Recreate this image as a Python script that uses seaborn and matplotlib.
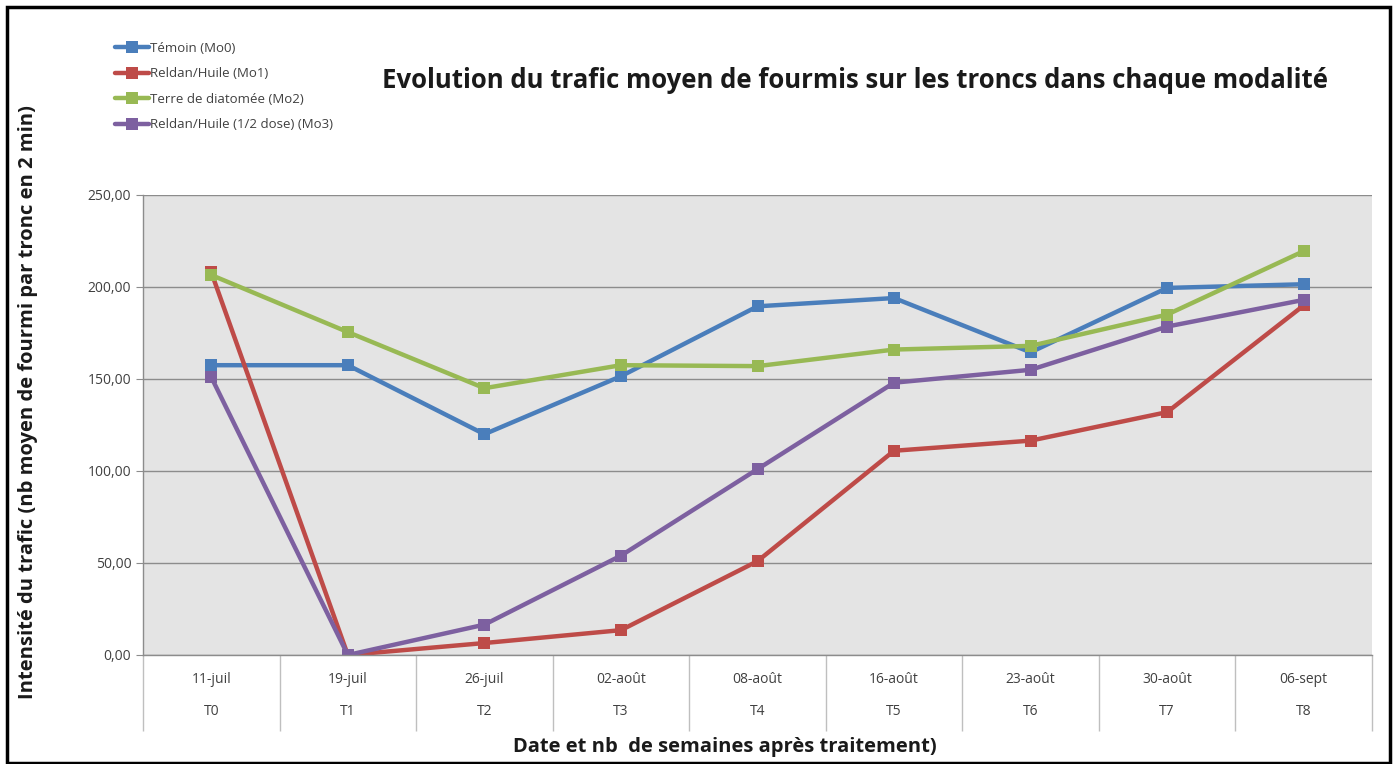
import pandas as pd
import matplotlib
matplotlib.use('Agg')
import matplotlib.pyplot as plt
import matplotlib.patches as patches
from matplotlib.ticker import FuncFormatter, FixedLocator
import seaborn as sns

# Data
dates = ['11-juil', '19-juil', '26-juil', '02-août', '08-août', '16-août', '23-août', '30-août', '06-sept']
weeks = ['T0', 'T1', 'T2', 'T3', 'T4', 'T5', 'T6', 'T7', 'T8']
series_names = ['Témoin (Mo0)', 'Reldan/Huile (Mo1)', 'Terre de diatomée (Mo2)', 'Reldan/Huile (1/2 dose) (Mo3)']
temoin = [157.5, 157.5, 120.0, 151.5, 189.5, 194.0, 164.5, 199.5, 201.5]
reldan = [208.0, 0.0, 6.5, 13.5, 51.0, 111.0, 116.5, 132.0, 190.0]
terre = [206.5, 175.5, 145.0, 157.5, 157.0, 166.0, 168.0, 185.0, 219.5]
reldan_demi = [151.0, 0.0, 16.5, 54.0, 101.0, 148.0, 155.0, 178.5, 193.0]
colors = ['#4a7ebb', '#be4b48', '#98b954', '#7d60a0']

rows = []
for name, vals in zip(series_names, [temoin, reldan, terre, reldan_demi]):
    for i, v in enumerate(vals):
        rows.append({'pos': i, 'value': v, 'serie': name})
df = pd.DataFrame(rows)

sns.set_style('white')
plt.rcParams['font.family'] = ['Open Sans', 'DejaVu Sans']

fig = plt.figure(figsize=(13.95, 7.64), dpi=100)
ax = fig.add_axes([143 / 1395, 1 - 655 / 764, (1372 - 143) / 1395, (655 - 195) / 764])
ax.set_facecolor('#e4e4e4')

sns.lineplot(data=df, x='pos', y='value', hue='serie', hue_order=series_names,
             palette=colors, style='serie', markers=['s'] * 4, dashes=False,
             markersize=8, linewidth=3.2, markeredgewidth=0, ax=ax)

handles, labels = ax.get_legend_handles_labels()
ax.get_legend().remove()
fig.legend(handles, labels, loc='upper left', bbox_to_anchor=(103 / 1395, 1 - 30 / 764),
           frameon=False, fontsize=9.5, handlelength=2.6, handletextpad=0.1,
           labelspacing=0.95, labelcolor='#404040')

ax.set_xlim(-0.5, 8.5)
ax.set_ylim(0, 250)
ax.set_yticks([0, 50, 100, 150, 200, 250])
ax.yaxis.set_major_formatter(FuncFormatter(lambda v, p: f'{v:.2f}'.replace('.', ',')))
ax.grid(axis='y', color='#8c8c8c', linewidth=1)
ax.tick_params(axis='y', length=5, color='#8c8c8c', labelsize=10, labelcolor='#404040', left=True)

ax.set_xticks(range(9))
ax.set_xticklabels([f'{d}\n{t}' for d, t in zip(dates, weeks)], linespacing=2.6)
ax.xaxis.set_minor_locator(FixedLocator([i - 0.5 for i in range(10)]))
ax.tick_params(axis='x', which='major', length=0, pad=12, labelsize=10, labelcolor='#404040')
ax.tick_params(axis='x', which='minor', length=55, color='#bfbfbf', width=1, bottom=True)

for s in ['top', 'right']:
    ax.spines[s].set_visible(False)
for s in ['left', 'bottom']:
    ax.spines[s].set_color('#8c8c8c')
    ax.spines[s].set_linewidth(1)

ax.set_xlabel('')
ax.set_ylabel('')
fig.text(725 / 1395, 1 - 747 / 764, 'Date et nb  de semaines après traitement)',
         ha='center', va='center', fontsize=14.5, fontweight='bold', color='#1a1a1a')
fig.text(28 / 1395, 1 - 402 / 764, 'Intensité du trafic (nb moyen de fourmi par tronc en 2 min)',
         ha='center', va='center', rotation=90, fontsize=14.5, fontweight='bold', color='#1a1a1a')
fig.text(855 / 1395, 1 - 81 / 764, 'Evolution du trafic moyen de fourmis sur les troncs dans chaque modalité',
         ha='center', va='center', fontsize=18.5, fontweight='bold', color='#1a1a1a')

fig.patches.append(patches.Rectangle((7 / 1395, 1 / 764), (1390 - 7) / 1395, (757 - 1) / 764,
                                     transform=fig.transFigure, fill=False,
                                     edgecolor='black', linewidth=2.5))

fig.savefig('out.png', dpi=100)
